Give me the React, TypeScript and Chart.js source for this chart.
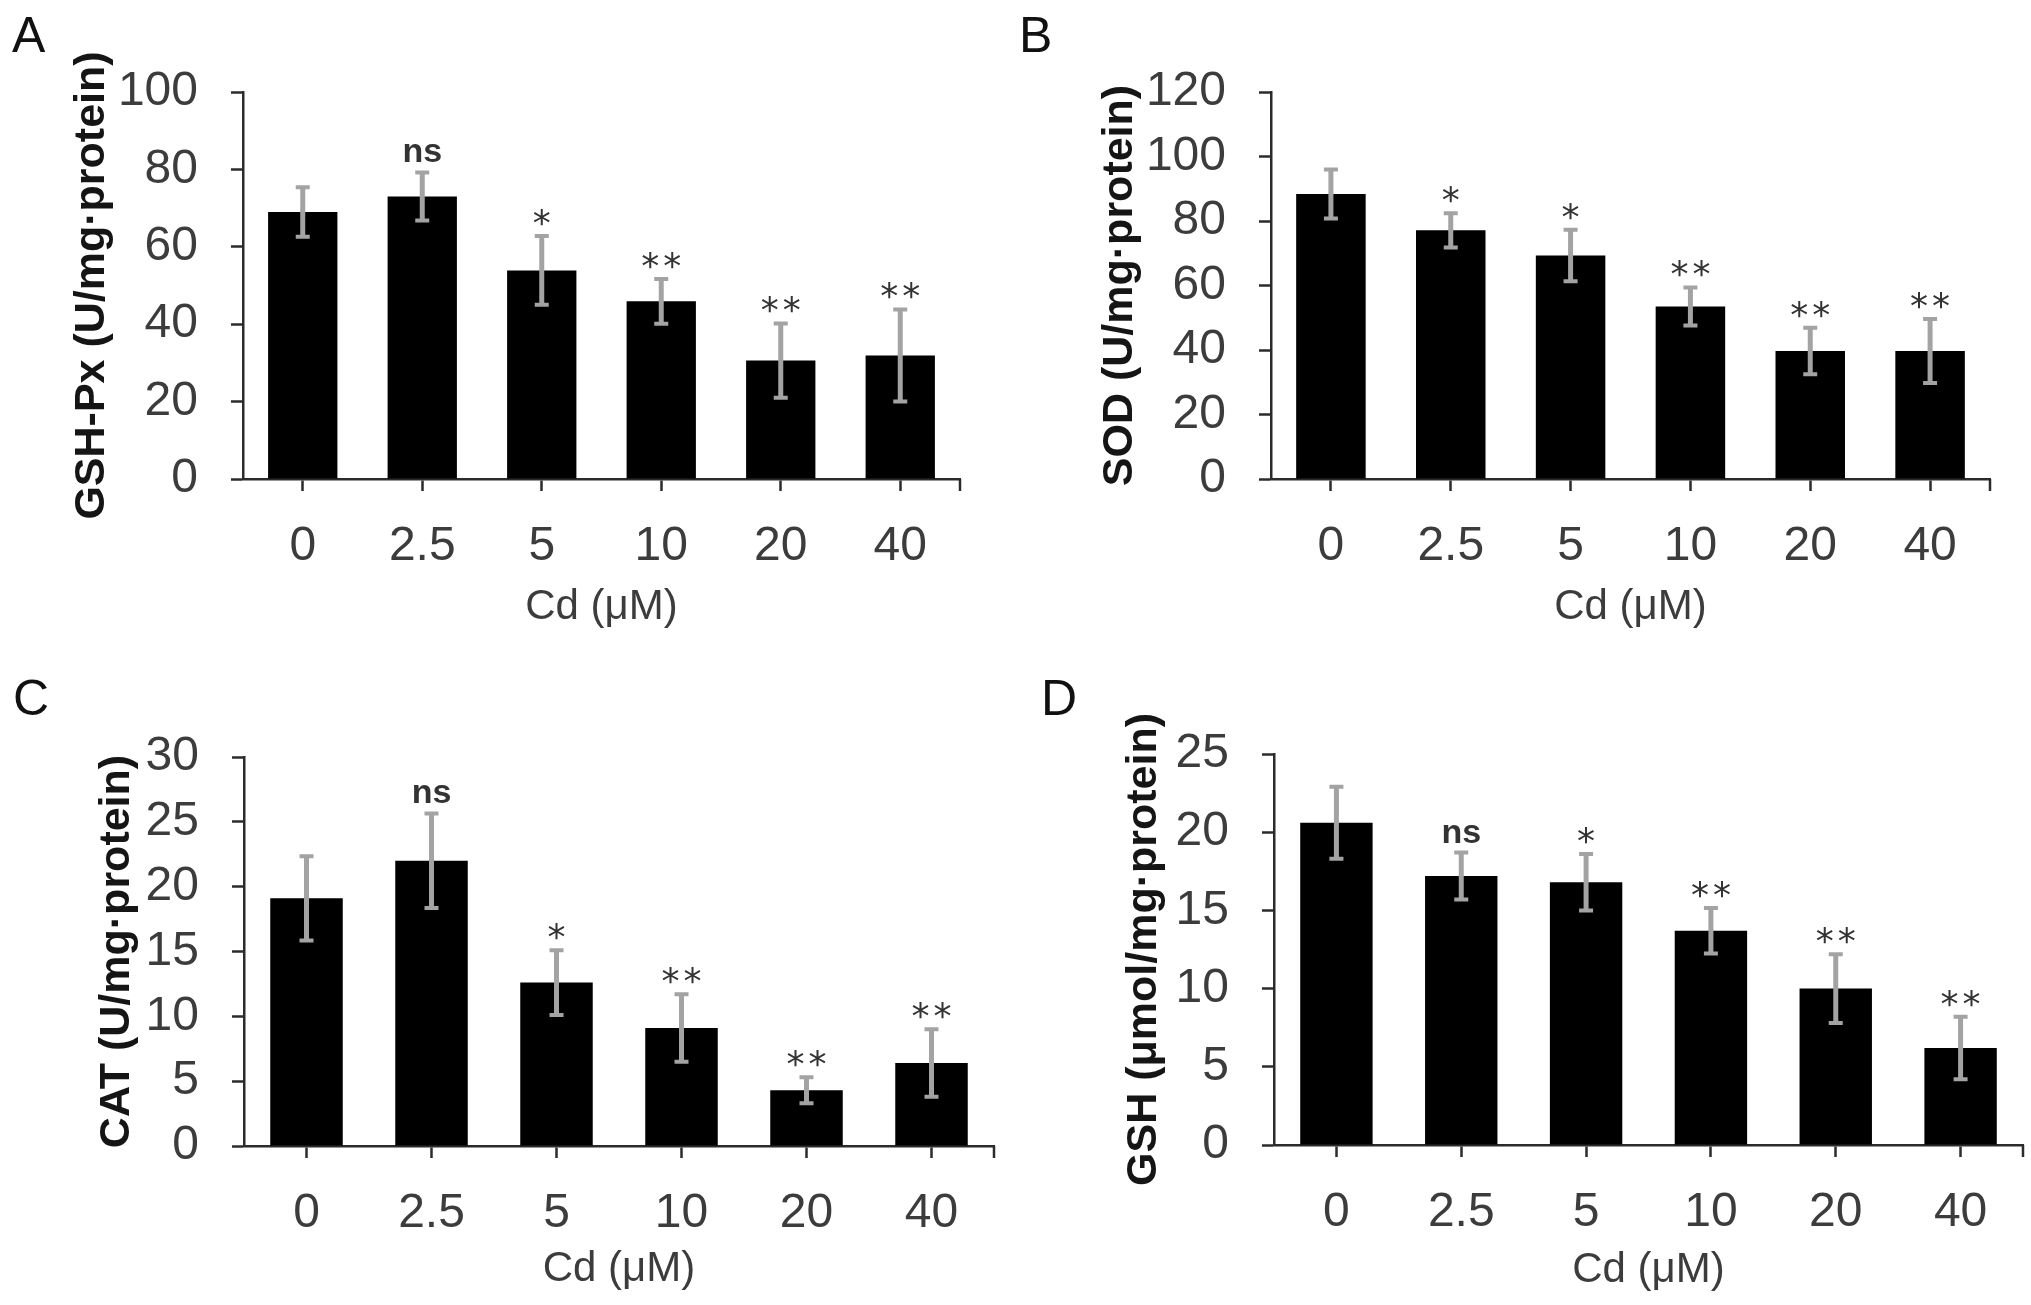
import { useEffect, useRef } from 'react'
import { Chart, registerables } from 'chart.js'
Chart.register(...registerables)

// Cd dose groups (µM)
const doses = ['0', '2.5', '5', '10', '20', '40']

// A: GSH-Px
const gshPxMean = [69.0, 73.0, 53.9, 45.9, 30.6, 31.9]
const gshPxSd = [6.4, 6.2, 8.9, 5.8, 9.6, 11.9]
const gshPxSig = ['', 'ns', '*', '**', '**', '**']

// B: SOD
const sodMean = [88.4, 77.1, 69.3, 53.5, 39.7, 39.7]
const sodSd = [7.6, 5.3, 8.0, 5.9, 7.2, 9.9]
const sodSig = ['', '*', '*', '**', '**', '**']

// C: CAT
const catMean = [19.1, 22.0, 12.6, 9.1, 4.3, 6.4]
const catSd = [3.25, 3.65, 2.5, 2.6, 1.0, 2.6]
const catSig = ['', 'ns', '*', '**', '**', '**']

// D: GSH
const gshMean = [20.6, 17.2, 16.8, 13.7, 10.0, 6.2]
const gshSd = [2.3, 1.5, 1.8, 1.45, 2.2, 2.0]
const gshSig = ['', 'ns', '*', '**', '**', '**']

const FONT = '"Liberation Sans", Arial, sans-serif'
const AXIS = '#2b2b2b'
const TICK_TXT = '#3c3c3c'

interface Box { x: number; y: number; w: number; h: number }
interface Area { l: number; r: number; t: number; b: number }
interface PanelProps {
    letter: string
    letterX: number
    letterY: number
    yTitle: string
    mean: number[]
    sd: number[]
    sig: string[]
    yMax: number
    yStep: number
    box: Box
    area: Area
    yTitleX: number
    xTitleY: number
}

function Panel(p: PanelProps) {
    const canvasRef = useRef<HTMLCanvasElement>(null)
    const chartRef = useRef<Chart | null>(null)

    useEffect(() => {
        if (!canvasRef.current) return
        const ctx = canvasRef.current.getContext('2d')!
        const { box, area } = p

        const errPlugin = {
            id: 'errBars',
            afterDatasetsDraw(chart: Chart) {
                const c = chart.ctx
                const y = chart.scales.y
                const xa = chart.scales.x
                const meta = chart.getDatasetMeta(0)
                c.save()
                meta.data.forEach((bar: any, i: number) => {
                    const x = bar.x
                    const top = y.getPixelForValue(p.mean[i] + p.sd[i])
                    const bot = y.getPixelForValue(p.mean[i] - p.sd[i])
                    c.strokeStyle = '#a3a3a3'
                    c.lineWidth = 5
                    c.beginPath(); c.moveTo(x, top); c.lineTo(x, bot); c.stroke()
                    c.lineWidth = 4
                    c.beginPath()
                    c.moveTo(x - 7, top); c.lineTo(x + 7, top)
                    c.moveTo(x - 7, bot); c.lineTo(x + 7, bot)
                    c.stroke()

                    const s = p.sig[i]
                    c.fillStyle = '#333'
                    c.textAlign = 'center'
                    c.textBaseline = 'alphabetic'
                    if (s === 'ns') {
                        c.font = `bold 34px ${FONT}`
                        c.fillText('ns', x, top - 10)
                    } else if (s) {
                        c.font = '36px "DejaVu Sans", sans-serif'
                        const n = s.length
                        for (let k = 0; k < n; k++) {
                            c.fillText('*', x + (k - (n - 1) / 2) * 22, top - 1)
                        }
                    }
                })
                // small tick closing the right end of the x axis
                c.strokeStyle = AXIS
                c.lineWidth = 2.5
                c.beginPath(); c.moveTo(xa.right, xa.top); c.lineTo(xa.right, xa.top + 12); c.stroke()
                c.restore()
            },
        }

        chartRef.current?.destroy()
        chartRef.current = new Chart(ctx, {
            type: 'bar',
            data: {
                labels: doses,
                datasets: [{
                    data: p.mean,
                    backgroundColor: '#000',
                    borderWidth: 0,
                    barPercentage: 0.58,
                    categoryPercentage: 1,
                }],
            },
            options: {
                responsive: true, maintainAspectRatio: false, animation: false,
                layout: { padding: { left: 0, top: area.t - box.y, right: box.x + box.w - area.r, bottom: 0 } },
                plugins: { legend: { display: false }, tooltip: { enabled: false } },
                scales: {
                    x: {
                        offset: true,
                        grid: { display: true, drawOnChartArea: false, drawTicks: true, offset: false, tickLength: 12, tickColor: AXIS, tickWidth: 2.5 },
                        border: { display: true, color: AXIS, width: 2.5 },
                        ticks: { autoSkip: false, maxRotation: 0, color: TICK_TXT, font: { family: FONT, size: 48 }, padding: 27 },
                        title: {
                            display: true, text: 'Cd (μM)', color: TICK_TXT,
                            font: { family: FONT, size: 42 },
                            padding: { top: 0, bottom: box.y + box.h - p.xTitleY - 25 },
                        },
                        afterFit: (s: any) => { s.height = box.y + box.h - area.b },
                    },
                    y: {
                        min: 0, max: p.yMax,
                        grid: { display: true, drawOnChartArea: false, drawTicks: true, tickLength: 12, tickColor: AXIS, tickWidth: 2.5 },
                        border: { display: true, color: AXIS, width: 2.5 },
                        ticks: { autoSkip: false, stepSize: p.yStep, color: TICK_TXT, font: { family: FONT, size: 48 }, padding: 33 },
                        title: {
                            display: true, text: p.yTitle, color: '#151515',
                            font: { family: FONT, size: 43, weight: 'bold' },
                            padding: { top: p.yTitleX - box.x - 26, bottom: 0 },
                        },
                        afterFit: (s: any) => { s.width = area.l - box.x },
                    },
                },
            },
            plugins: [errPlugin],
        } as any)
        return () => chartRef.current?.destroy()
    }, [])

    return (
        <>
            <div style={{ position: 'absolute', left: p.box.x, top: p.box.y, width: p.box.w, height: p.box.h }}>
                <canvas ref={canvasRef} />
            </div>
            <div style={{ position: 'absolute', left: p.letterX, top: p.letterY, fontFamily: FONT, fontSize: 50, lineHeight: 1, color: '#111' }}>
                {p.letter}
            </div>
        </>
    )
}

export default function App() {
    return (
        <div style={{ position: 'absolute', left: 0, top: 0, width: 2031, height: 1305, background: '#fff', overflow: 'hidden' }}>
            <Panel letter="A" letterX={12} letterY={10} yTitle="GSH-Px (U/mg·protein)"
                mean={gshPxMean} sd={gshPxSd} sig={gshPxSig} yMax={100} yStep={20}
                box={{ x: 0, y: 0, w: 1015, h: 650 }} area={{ l: 243, r: 960, t: 92, b: 479 }}
                yTitleX={92} xTitleY={608} />
            <Panel letter="B" letterX={1019} letterY={10} yTitle="SOD (U/mg·protein)"
                mean={sodMean} sd={sodSd} sig={sodSig} yMax={120} yStep={20}
                box={{ x: 1015, y: 0, w: 1016, h: 650 }} area={{ l: 1271, r: 1990, t: 92, b: 479 }}
                yTitleX={1120} xTitleY={608} />
            <Panel letter="C" letterX={13} letterY={673} yTitle="CAT (U/mg·protein)"
                mean={catMean} sd={catSd} sig={catSig} yMax={30} yStep={5}
                box={{ x: 0, y: 650, w: 1015, h: 655 }} area={{ l: 244, r: 994, t: 757, b: 1146 }}
                yTitleX={117} xTitleY={1270} />
            <Panel letter="D" letterX={1041} letterY={673} yTitle="GSH (μmol/mg·protein)"
                mean={gshMean} sd={gshSd} sig={gshSig} yMax={25} yStep={5}
                box={{ x: 1015, y: 650, w: 1016, h: 655 }} area={{ l: 1274, r: 2023, t: 754, b: 1145 }}
                yTitleX={1144} xTitleY={1271} />
        </div>
    )
}
